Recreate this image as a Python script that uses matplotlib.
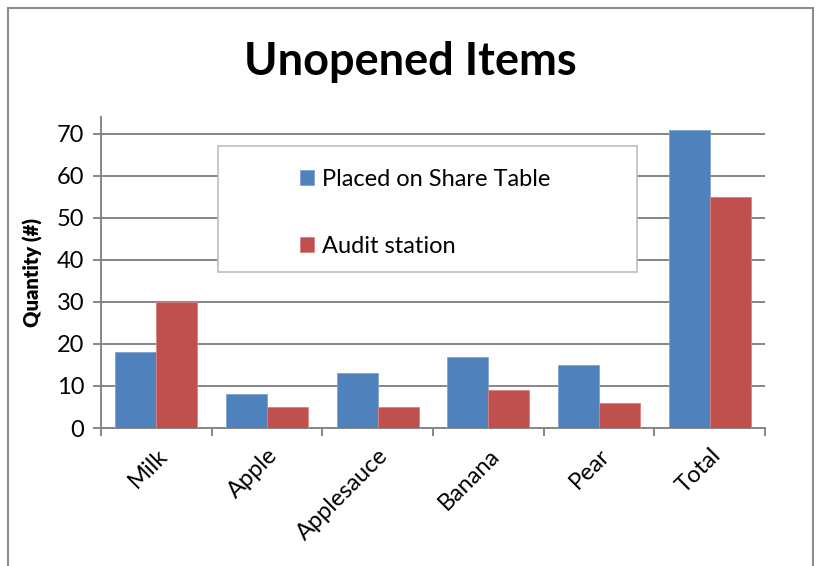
import numpy as np
import matplotlib.pyplot as plt
from matplotlib.patches import Rectangle

# du lieu
categories = ['Milk', 'Apple', 'Applesauce', 'Banana', 'Pear', 'Total']
share_table = [18, 8, 13, 17, 15, 71]
audit_station = [30, 5, 5, 9, 6, 55]
series_names = ['Placed on Share Table', 'Audit station']

plt.rcParams['font.family'] = ['Lato', 'DejaVu Sans']
grid_color = '#868686'

fig = plt.figure(figsize=(8.2, 5.66), dpi=100)
ax = fig.add_axes([0.1232, 0.2438, 0.8098, 0.5495])

x = np.arange(len(categories))
w = 0.37
b1 = ax.bar(x - w / 2, share_table, w, color='#4F81BD', edgecolor='#7FA3D0', linewidth=0.6, zorder=3,
            label=series_names[0])
b2 = ax.bar(x + w / 2, audit_station, w, color='#C0504D', edgecolor='#D88280', linewidth=0.6, zorder=3,
            label=series_names[1])

ax.set_xlim(-0.5, len(categories) - 0.5)
ax.set_ylim(0, 74)
ax.set_yticks(range(0, 71, 10))
ax.yaxis.grid(True, color=grid_color, linewidth=1.4, zorder=0)
ax.set_axisbelow(True)

# ticks truc x o giua cac nhom
ax.set_xticks(np.arange(-0.5, len(categories), 1.0))
ax.set_xticklabels([])
ax.set_xticks(x, minor=True)
ax.set_xticklabels(categories, minor=True, rotation=45, ha='right', rotation_mode='anchor', fontsize=17)
ax.tick_params(axis='x', which='minor', length=0, pad=12)
ax.tick_params(axis='x', which='major', length=6, color=grid_color, width=1.4)
ax.tick_params(axis='y', length=6, color=grid_color, width=1.4, labelsize=17, pad=6)

for s in ['top', 'right']:
    ax.spines[s].set_visible(False)
for s in ['left', 'bottom']:
    ax.spines[s].set_color(grid_color)
    ax.spines[s].set_linewidth(1.4)

ax.set_ylabel('Quantity (#)', fontsize=14.5, fontweight='heavy', labelpad=10)

# khung legend
ax.add_patch(Rectangle((0.176, 0.502), 0.631, 0.405, transform=ax.transAxes, facecolor='white',
                       edgecolor='#BFBFBF', linewidth=1.2, zorder=4))
leg = ax.legend(loc='upper left', bbox_to_anchor=(0.2997, 0.832), frameon=False, fontsize=17,
                handlelength=0.6, handleheight=0.6, handletextpad=0.35, labelspacing=1.95,
                borderpad=0, borderaxespad=0)
leg.set_zorder(5)

fig.text(0.501, 0.89, 'Unopened Items', ha='center', va='center', fontsize=32.5, fontweight='bold')

# vien ngoai cua bieu do
fig.patches.append(Rectangle((8 / 820, -0.02), 805 / 820, 1 - 8 / 566 + 0.02, transform=fig.transFigure,
                             fill=False, edgecolor='#8C8C8C', linewidth=1.5))

fig.savefig('out.png', dpi=100)
